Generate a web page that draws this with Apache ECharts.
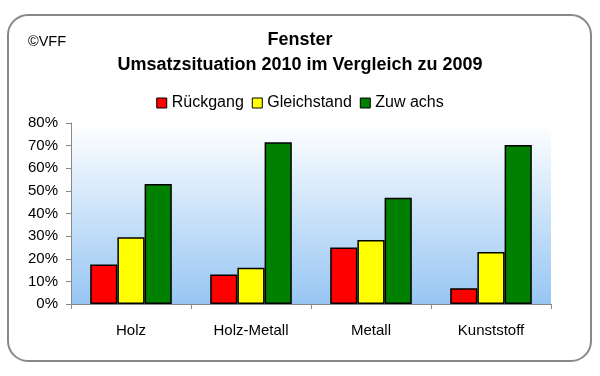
<!DOCTYPE html>
<html>
<head>
<meta charset="utf-8">
<script src="https://cdn.jsdelivr.net/npm/echarts@6/dist/echarts.min.js"></script>
<style>
  html, body { margin: 0; padding: 0; background: #fff; }
  #chart { width: 600px; height: 376px; }
</style>
</head>
<body>
<div id="chart"></div>
<script>
const categories = ['Holz', 'Holz-Metall', 'Metall', 'Kunststoff']
const rueckgang = [17.5, 13, 25, 7]
const gleichstand = [29.5, 16, 28.3, 23]
const zuwachs = [53, 71.5, 47, 70.3]

const font = 'Arial, "Liberation Sans", sans-serif'
const chart = echarts.init(document.getElementById('chart'))

function bar(name, data, color) {
  return {
    name,
    type: 'bar',
    data,
    barGap: '0%',
    barCategoryGap: '32%',
    itemStyle: { color, borderColor: '#000', borderWidth: 1.5 },
  }
}

chart.setOption({
  backgroundColor: '#fff',
  animation: false,
  textStyle: { fontFamily: font },
  graphic: [{
    type: 'rect',
    shape: { x: 8, y: 15, width: 583, height: 346, r: 20 },
    style: { fill: 'none', stroke: '#888', lineWidth: 2 },
    z: 100,
  }],
  title: [
    { text: '©VFF', left: 23, top: 29, textStyle: { fontSize: 14.5, fontWeight: 'normal', color: '#000', fontFamily: font } },
    { text: 'Fenster', left: 'center', top: 26, textStyle: { fontSize: 18, fontWeight: 'bold', color: '#000', fontFamily: font } },
    { text: 'Umsatzsituation 2010 im Vergleich zu 2009', left: 'center', top: 51, textStyle: { fontSize: 18, fontWeight: 'bold', color: '#000', fontFamily: font } },
  ],
  legend: {
    top: 90,
    left: 'center',
    itemWidth: 10,
    itemHeight: 10,
    itemGap: 8,
    icon: 'rect',
    itemStyle: { borderColor: '#000', borderWidth: 1 },
    textStyle: { fontSize: 16, color: '#000', fontFamily: font },
  },
  grid: {
    left: 71, right: 49, top: 123, bottom: 72,
    show: true,
    borderWidth: 0,
    backgroundColor: new echarts.graphic.LinearGradient(0, 0, 0, 1, [
      { offset: 0, color: '#ffffff' },
      { offset: 1, color: '#97c6f3' },
    ]),
  },
  xAxis: {
    type: 'category',
    data: categories,
    axisLine: { lineStyle: { color: '#888', width: 1 } },
    axisTick: { show: true, length: 5, lineStyle: { color: '#888' } },
    axisLabel: { fontSize: 15, color: '#000', margin: 19, fontFamily: font },
  },
  yAxis: {
    type: 'value',
    min: 0, max: 80, interval: 10,
    axisLine: { show: true, lineStyle: { color: '#888' } },
    axisTick: { show: true, length: 5, lineStyle: { color: '#888' } },
    splitLine: { show: false },
    axisLabel: { fontSize: 15, color: '#000', margin: 13, formatter: '{value}%', fontFamily: font },
  },
  series: [
    bar('Rückgang', rueckgang, '#ff0000'),
    bar('Gleichstand', gleichstand, '#ffff00'),
    bar('Zuw achs', zuwachs, '#008000'),
  ],
})
</script>
</body>
</html>
